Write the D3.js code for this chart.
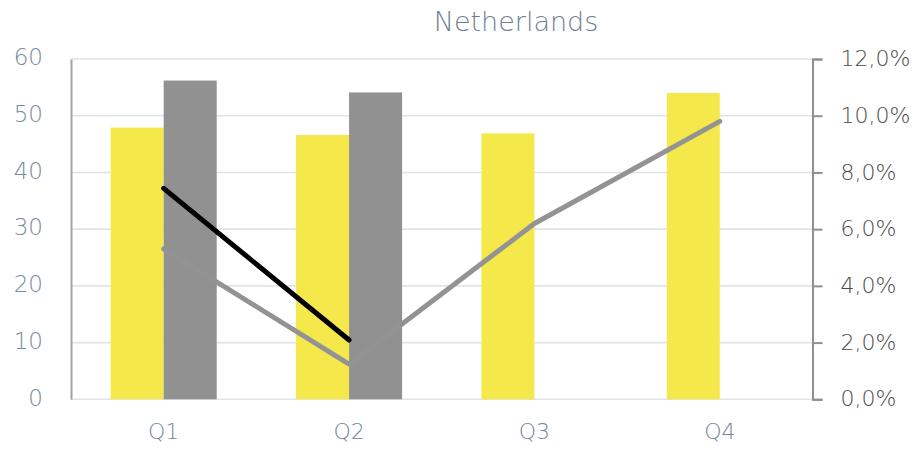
<!DOCTYPE html>
<html>
<head>
<meta charset="utf-8">
<script src="https://cdn.jsdelivr.net/npm/d3@7/dist/d3.min.js"></script>
<style>
  html, body { margin: 0; padding: 0; background: #fff; }
  svg { display: block; }
  text { font-family: "DejaVu Sans", sans-serif; font-weight: 200; }
</style>
</head>
<body>
<svg id="chart" width="920" height="452"></svg>
<script>
// Quarterly figures for the Netherlands
const categories = ["Q1", "Q2", "Q3", "Q4"];
const volumeCurrent = [47.9, 46.6, 46.9, 54.0];      // yellow bars, left axis
const volumePrevious = [56.2, 54.1, null, null];      // grey bars, left axis
const rateCurrent = [5.3, 1.24, 6.2, 9.8];            // grey line, right axis (%)
const ratePrevious = [7.44, 2.09, null, null];        // black line, right axis (%)
const leftTicks = [0, 10, 20, 30, 40, 50, 60];
const rightTicks = [0, 2, 4, 6, 8, 10, 12];
const title = "Netherlands";

const plot = { left: 71, right: 812.5, top: 59, bottom: 399.3 };

const svg = d3.select("#chart");

const x = d3.scaleBand().domain(categories).range([plot.left, plot.right]).paddingInner(0).paddingOuter(0);
const yL = d3.scaleLinear().domain([0, 60]).range([plot.bottom, plot.top]);
const yR = d3.scaleLinear().domain([0, 12]).range([plot.bottom, plot.top]);
const barW = x.bandwidth() * 0.286;
const cx = d => x(d) + x.bandwidth() / 2;

// Title
svg.append("text")
  .attr("x", 516).attr("y", 31)
  .attr("text-anchor", "middle")
  .attr("fill", "#6d8091")
  .attr("font-size", 27)
  .text(title);

// Horizontal gridlines
svg.append("g").selectAll("line").data(leftTicks).join("line")
  .attr("x1", plot.left).attr("x2", plot.right)
  .attr("y1", d => yL(d)).attr("y2", d => yL(d))
  .attr("stroke", "#dfe3ea").attr("stroke-width", 1.6);

// Left axis
const leftAxis = d3.axisLeft(yL).tickValues(leftTicks).tickSize(0).tickPadding(28);
const gL = svg.append("g").attr("transform", `translate(${plot.left},0)`).call(leftAxis);
gL.select(".domain").attr("stroke", "#a3a3a3").attr("stroke-width", 2);
gL.selectAll("text").attr("fill", "#7a8b9c").attr("font-size", 23)
  .attr("font-family", "DejaVu Sans").attr("font-weight", 200).attr("dy", "0.25em");

// Right axis
const rightAxis = d3.axisRight(yR).tickValues(rightTicks).tickSize(10).tickSizeOuter(10).tickPadding(18)
  .tickFormat(d => d3.format(".1f")(d).replace(".", ",") + "%");
const gR = svg.append("g").attr("transform", `translate(${plot.right},0)`).call(rightAxis);
gR.select(".domain").attr("stroke", "#8f8f8f").attr("stroke-width", 2);
gR.selectAll(".tick line").attr("stroke", "#8f8f8f").attr("stroke-width", 2);
gR.selectAll("text").attr("fill", "#4d4d4d").attr("font-size", 22)
  .attr("font-family", "DejaVu Sans").attr("font-weight", 200).attr("dy", "0.3em");

// Category axis labels
const bottomAxis = d3.axisBottom(x).tickSize(0).tickPadding(24);
const gB = svg.append("g").attr("transform", `translate(0,${plot.bottom})`).call(bottomAxis);
gB.select(".domain").remove();
gB.selectAll("text").attr("fill", "#7288a0").attr("font-size", 22)
  .attr("font-family", "DejaVu Sans").attr("font-weight", 200);

// Bars
svg.append("g").selectAll("rect").data(categories).join("rect")
  .attr("x", d => cx(d) - barW)
  .attr("width", barW)
  .attr("y", (d, i) => yL(volumeCurrent[i]))
  .attr("height", (d, i) => yL(0) - yL(volumeCurrent[i]))
  .attr("fill", "#f5e84b");

svg.append("g").selectAll("rect")
  .data(categories.map((c, i) => ({ c, v: volumePrevious[i] })).filter(d => d.v != null))
  .join("rect")
  .attr("x", d => cx(d.c))
  .attr("width", barW)
  .attr("y", d => yL(d.v))
  .attr("height", d => yL(0) - yL(d.v))
  .attr("fill", "#919191");

// Lines
const line = d3.line()
  .defined(d => d.v != null)
  .x(d => cx(d.c))
  .y(d => yR(d.v));

svg.append("path")
  .datum(categories.map((c, i) => ({ c, v: rateCurrent[i] })))
  .attr("d", line)
  .attr("fill", "none").attr("stroke", "#939393").attr("stroke-width", 5)
  .attr("stroke-linecap", "round").attr("stroke-linejoin", "round");

svg.append("path")
  .datum(categories.map((c, i) => ({ c, v: ratePrevious[i] })))
  .attr("d", line)
  .attr("fill", "none").attr("stroke", "#000").attr("stroke-width", 5)
  .attr("stroke-linecap", "round").attr("stroke-linejoin", "round");
</script>
</body>
</html>
